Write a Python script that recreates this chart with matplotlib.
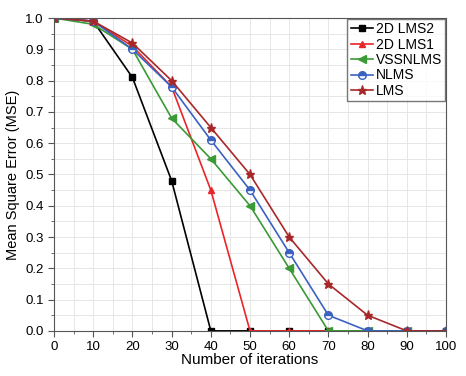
import numpy as np
import matplotlib.pyplot as plt

plt.rcParams['font.family'] = ['Liberation Sans', 'DejaVu Sans']

iters = [0, 10, 20, 30, 40, 50, 60, 70, 80, 90, 100]
lms2d2 = [1.0, 0.99, 0.81, 0.48, 0.0, 0.0, 0.0, 0.0, 0.0, 0.0, 0.0]
lms2d1 = [1.0, 0.99, 0.91, 0.78, 0.45, 0.0, 0.0, 0.0, 0.0, 0.0, 0.0]
vssnlms = [1.0, 0.98, 0.90, 0.68, 0.55, 0.40, 0.20, 0.0, 0.0, 0.0, 0.0]
nlms = [1.0, 0.99, 0.90, 0.78, 0.61, 0.45, 0.25, 0.05, 0.0, 0.0, 0.0]
lms = [1.0, 0.99, 0.92, 0.80, 0.65, 0.50, 0.30, 0.15, 0.05, 0.0, 0.0]

fig = plt.figure(figsize=(4.66, 3.76), dpi=100)
ax = fig.add_axes([0.116, 0.12, 0.841, 0.832])

ax.plot(iters, lms2d2, color='black', marker='s', ms=4.5, lw=1.2, label='2D LMS2')
ax.plot(iters, lms2d1, color='#e8262a', marker='^', ms=4.5, lw=1.2, label='2D LMS1')
ax.plot(iters, vssnlms, color='#3a9a35', marker='<', ms=5.5, lw=1.2, label='VSSNLMS')
ax.plot(iters, nlms, color='#3a62c0', marker='o', ms=5.5, lw=1.2, fillstyle='top',
        markerfacecoloralt='white', label='NLMS')
ax.plot(iters, lms, color='#a8282a', marker='*', ms=6.5, lw=1.2, label='LMS')

ax.set_xlim(0, 100)
ax.set_ylim(0, 1.0)
ax.set_xticks(np.arange(0, 101, 10))
ax.set_yticks(np.arange(0, 1.01, 0.1))
ax.set_xticks(np.arange(0, 101, 5), minor=True)
ax.set_yticks(np.arange(0, 1.01, 0.05), minor=True)
ax.set_yticklabels(['0.0', '0.1', '0.2', '0.3', '0.4', '0.5', '0.6', '0.7', '0.8', '0.9', '1.0'])
ax.grid(which='both', color='#e6e6e6', lw=0.7)
ax.set_axisbelow(True)
ax.tick_params(labelsize=9.5, direction='out', length=4, color='#555555')
ax.tick_params(which='minor', length=2, color='#555555')
for s in ax.spines.values():
    s.set_color('#555555')

ax.set_xlabel('Number of iterations', fontsize=11, labelpad=0)
ax.set_ylabel('Mean Square Error (MSE)', fontsize=10.5)

leg = ax.legend(loc='upper right', fontsize=10, fancybox=False, edgecolor='#555555',
                handlelength=1.6, borderpad=0.25, labelspacing=0.1, handletextpad=0.2,
                borderaxespad=0.05)
leg.get_frame().set_linewidth(1.0)

plt.savefig('out.png', dpi=100)
